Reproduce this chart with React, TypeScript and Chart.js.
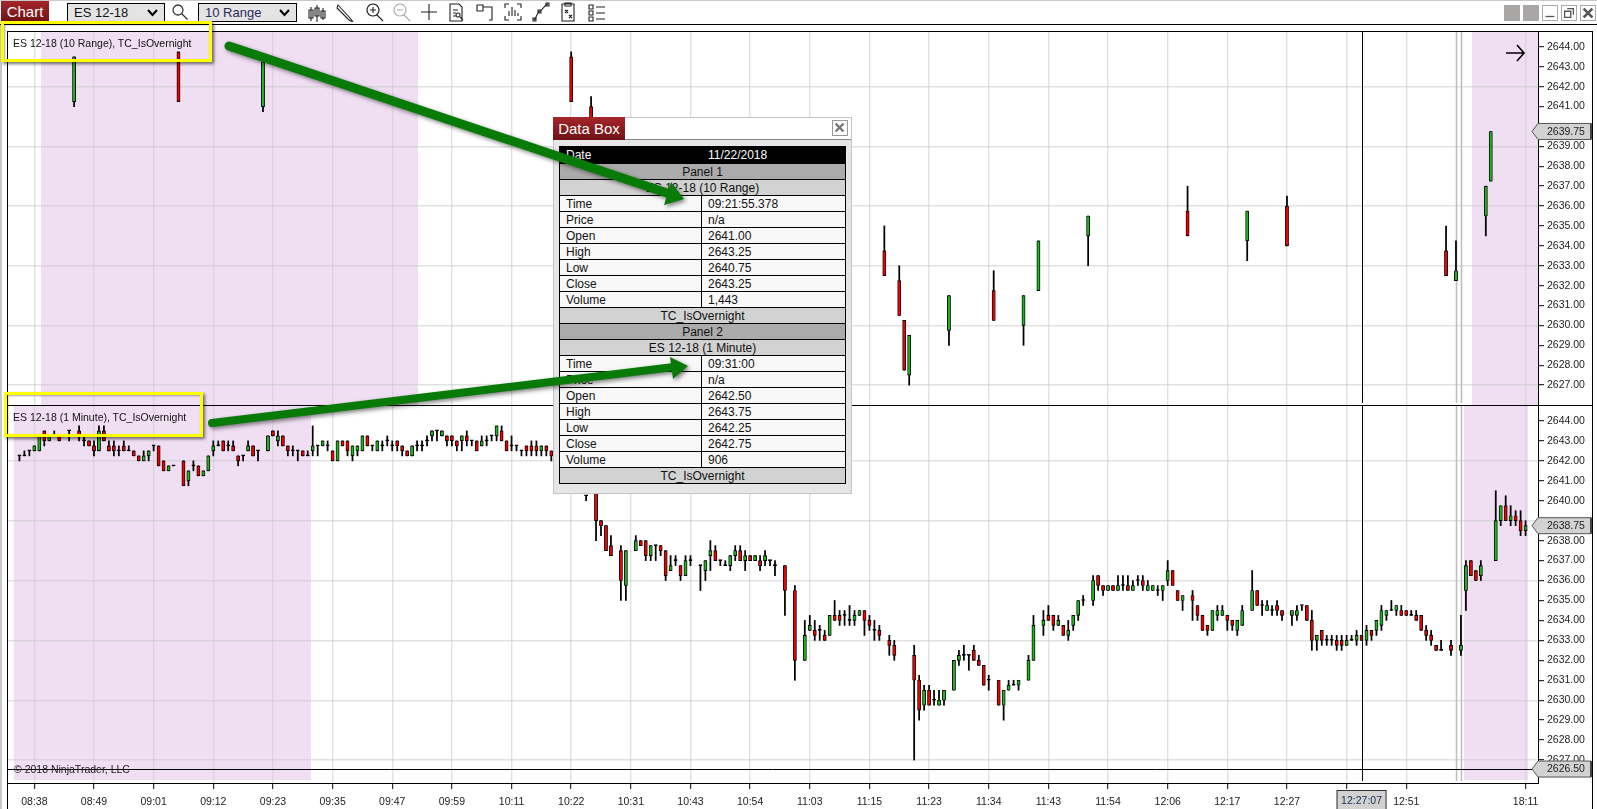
import React, { useEffect, useRef } from "react";
import Chart from "chart.js/auto";

const FONT = '"Liberation Sans", Arial, sans-serif';
const BAR_SLOTS = 308;
const GRID_COLOR = "rgba(200,200,200,0.55)";

// time axis: bar index of each label, the 12:39 one sits under the crosshair flag
const timeIndex = [5, 17, 29, 41, 53, 65, 77, 89, 101, 113, 125, 137, 149, 161, 173, 185, 197, 209, 221, 233, 245, 257, 269, 281, 305];
const timeLabels = ["08:38", "08:49", "09:01", "09:12", "09:23", "09:35", "09:47", "09:59", "10:11", "10:22", "10:31", "10:43", "10:54", "11:03", "11:15", "11:23", "11:34", "11:43", "11:54", "12:06", "12:17", "12:27", "", "12:51", "18:11"];

const priceTicks = [2644, 2643, 2642, 2641, 2640, 2639, 2638, 2637, 2636, 2635, 2634, 2633, 2632, 2631, 2630, 2629, 2628, 2627];
const gridPrices = [2642, 2639, 2636, 2633, 2630, 2627];

// panel 1, ES 12-18 (10 Range)
const upperIndex = [13, 34, 51, 113, 117, 176, 179, 180, 181, 189, 198, 204, 207, 217, 237, 249, 257, 289, 291, 297, 298];
const upperOpen = [2641.25, 2643.75, 2641, 2643.5, 2641, 2633.75, 2632.25, 2630.25, 2627.5, 2629.75, 2631.75, 2630, 2631.75, 2634.5, 2635.75, 2634.25, 2636, 2633.75, 2632.25, 2635.5, 2637.25];
const upperHigh = [2643.5, 2643.75, 2643.25, 2643.75, 2641.5, 2635, 2633, 2630.25, 2629.5, 2631.5, 2632.75, 2631.5, 2634.25, 2635.5, 2637, 2635.75, 2636.5, 2635, 2634.25, 2637, 2639.75];
const upperLow = [2641, 2641.25, 2640.75, 2641.25, 2640, 2632.5, 2630.5, 2627.75, 2627, 2629, 2630.25, 2629, 2631.75, 2633, 2634.5, 2633.25, 2634, 2632.5, 2632.25, 2634.5, 2637.25];
const upperClose = [2643.5, 2641.25, 2643.25, 2641.25, 2640, 2632.5, 2630.5, 2627.75, 2629.5, 2631.5, 2630.25, 2631.5, 2634.25, 2635.5, 2634.5, 2635.75, 2634, 2632.5, 2632.75, 2637, 2639.75];

// panel 2, ES 12-18 (1 Minute)
const lowerIndex = [
	2, 3, 4, 5, 6, 7, 8, 9, 10, 12,
	14, 15, 16, 17, 18, 19, 20, 21, 22, 23,
	24, 25, 26, 27, 28, 29, 30, 31, 32, 33,
	35, 36, 37, 38, 39, 40, 41, 42, 43, 44,
	45, 46, 47, 48, 49, 50, 52, 53, 54, 55,
	56, 57, 58, 59, 60, 61, 62, 63, 64, 65,
	66, 67, 68, 69, 70, 71, 72, 73, 74, 75,
	76, 77, 78, 79, 80, 81, 82, 83, 84, 85,
	86, 87, 88, 89, 90, 91, 92, 93, 94, 95,
	96, 97, 98, 99, 100, 101, 102, 103, 104, 105,
	106, 107, 108, 109, 116, 118, 119, 120, 121, 123,
	124, 126, 127, 128, 129, 130, 131, 132, 133, 134,
	135, 136, 137, 139, 140, 141, 142, 143, 144, 145,
	146, 147, 148, 149, 150, 151, 152, 153, 154, 156,
	158, 160, 161, 162, 163, 164, 165, 166, 167, 168,
	169, 170, 171, 172, 173, 174, 175, 177, 178, 182,
	183, 184, 185, 186, 187, 188, 190, 191, 192, 193,
	194, 195, 196, 197, 199, 200, 201, 202, 203, 205,
	206, 208, 209, 210, 211, 212, 213, 214, 215, 216,
	218, 219, 220, 221, 222, 223, 224, 225, 226, 227,
	228, 229, 230, 231, 232, 233, 234, 235, 236, 238,
	239, 240, 241, 242, 243, 244, 245, 246, 247, 248,
	250, 251, 252, 253, 254, 255, 256, 258, 259, 260,
	261, 262, 263, 264, 265, 266, 267, 268, 269, 270,
	271, 272, 273, 274, 275, 276, 277, 278, 279, 280,
	281, 282, 283, 284, 285, 286, 287, 288, 290, 292,
	293, 294, 295, 296, 299, 300, 301, 302, 303, 304,
	305,
];
const lowerOpen = [
	2642.25, 2642.25, 2642.5, 2642.5, 2642.5, 2643.5, 2643, 2643.25, 2643.25, 2643.5,
	2643.5, 2643, 2643, 2642.75, 2642.5, 2643.5, 2642.75, 2642.75, 2642.5, 2642.75,
	2642.5, 2642.5, 2642.25, 2642, 2642.25, 2642.75, 2642.75, 2642, 2641.5, 2641.75,
	2642, 2641, 2641.75, 2641.75, 2641.25, 2641.5, 2642.5, 2642.75, 2643, 2642.75,
	2642.75, 2642.25, 2642.25, 2642.5, 2642.75, 2642.5, 2642.5, 2643.5, 2643, 2643.25,
	2642.75, 2642.5, 2642.5, 2642.5, 2642.25, 2642.5, 2642.75, 2642.75, 2642.75, 2642.5,
	2642, 2643, 2643, 2642.25, 2642.5, 2642.5, 2643.25, 2642.75, 2642.5, 2642.75,
	2643, 2642.75, 2643, 2642.75, 2642.5, 2642.25, 2642.75, 2642.75, 2643, 2643.25,
	2643.5, 2643.25, 2643.25, 2643.25, 2643, 2643, 2643.25, 2643, 2643, 2642.75,
	2643, 2643.25, 2643.25, 2643.5, 2643, 2642.75, 2642.75, 2642.5, 2642.75, 2642.75,
	2642.75, 2642.5, 2642.75, 2642.5, 2640.25, 2640.5, 2639, 2638.75, 2637.75, 2637.5,
	2635.75, 2637.5, 2638, 2638, 2637.25, 2637.75, 2637.75, 2637.5, 2636.5, 2637,
	2636.75, 2636.25, 2637, 2636.75, 2636.5, 2637.25, 2637.5, 2637, 2636.75, 2636.75,
	2637.25, 2637.5, 2637, 2637.25, 2637, 2637, 2637, 2637, 2636.75, 2636.75,
	2635.5, 2632, 2633.5, 2633.5, 2633.5, 2633.25, 2633.25, 2634.25, 2634.25, 2634.25,
	2634, 2634, 2634.25, 2634.5, 2634, 2633.5, 2633.5, 2633, 2632.75, 2632.25,
	2631, 2629.75, 2630.5, 2630, 2629.75, 2630, 2630.5, 2632, 2632.25, 2632.25,
	2632.5, 2632, 2631.75, 2631, 2631, 2629.75, 2630.5, 2630.75, 2630.75, 2631,
	2632, 2633.75, 2634.25, 2634.25, 2633.75, 2633.75, 2633.25, 2633.75, 2634.25, 2635,
	2635, 2636.25, 2635.75, 2635.5, 2635.75, 2635.5, 2635.75, 2635.75, 2635.5, 2636,
	2636, 2635.5, 2635.5, 2635.5, 2635.5, 2636, 2636.5, 2635.5, 2635, 2635.25,
	2634.75, 2634.25, 2633.75, 2633.5, 2634.25, 2634.25, 2634.25, 2634, 2633.5, 2633.75,
	2634.5, 2635.5, 2634.75, 2634.5, 2634.5, 2634.75, 2634.5, 2634.25, 2634.25, 2634.75,
	2634.75, 2634, 2633, 2633.5, 2633, 2633, 2633, 2633, 2632.75, 2633,
	2633, 2633.25, 2633, 2633.5, 2633.5, 2633.75, 2634.25, 2634.5, 2634.5, 2634.5,
	2634.5, 2634.25, 2634.25, 2634.25, 2633.5, 2633.25, 2632.75, 2632.5, 2632.75, 2632.5,
	2635.5, 2637, 2636.5, 2636.25, 2637, 2639, 2639.75, 2639, 2639.25, 2639,
	2638.5,
];
const lowerHigh = [
	2642.25, 2642.5, 2642.5, 2642.75, 2643.25, 2643.5, 2643.25, 2643.5, 2643.25, 2643.5,
	2643.75, 2643.25, 2643, 2643, 2643.75, 2643.75, 2643, 2643, 2642.75, 2643,
	2642.75, 2642.5, 2642.25, 2642.5, 2642.5, 2642.75, 2642.75, 2642, 2641.75, 2641.75,
	2642, 2641.5, 2642, 2641.75, 2641.5, 2642.25, 2643, 2643, 2643, 2643,
	2643, 2642.25, 2642.25, 2643, 2642.75, 2642.5, 2643.25, 2643.5, 2643.5, 2643.25,
	2642.75, 2642.75, 2642.5, 2642.5, 2642.5, 2643.75, 2642.75, 2643, 2643, 2642.5,
	2643, 2643, 2643, 2642.75, 2642.75, 2643.25, 2643.25, 2642.75, 2643, 2643,
	2643.25, 2643, 2643, 2642.75, 2642.5, 2642.75, 2643, 2643, 2643.25, 2643.5,
	2643.5, 2643.5, 2643.25, 2643.25, 2643, 2643.25, 2643.5, 2643, 2643, 2643.25,
	2643.25, 2643.25, 2643.75, 2643.75, 2643, 2643.25, 2642.75, 2642.5, 2642.75, 2643,
	2643, 2642.75, 2642.75, 2642.5, 2640.25, 2640.5, 2639, 2638.75, 2638.25, 2637.75,
	2637.5, 2638.25, 2638, 2638, 2637.75, 2637.75, 2637.75, 2637.5, 2637.25, 2637.25,
	2636.75, 2637.25, 2637.25, 2636.75, 2637, 2638, 2637.75, 2637, 2637, 2637.25,
	2637.75, 2637.75, 2637.5, 2637.25, 2637.25, 2637.25, 2637.5, 2637, 2637, 2636.75,
	2635.75, 2634, 2634.25, 2634, 2633.75, 2633.5, 2634.25, 2635, 2634.5, 2634.5,
	2634.75, 2634.5, 2634.5, 2634.5, 2634.25, 2634, 2633.75, 2633.25, 2633, 2632.75,
	2631.25, 2630.75, 2630.75, 2630.5, 2630.5, 2630.5, 2632, 2632.5, 2632.75, 2632.25,
	2632.75, 2632.25, 2631.75, 2631.25, 2631, 2630.5, 2631, 2631, 2631, 2632.25,
	2634.25, 2634.5, 2634.75, 2634.25, 2634.25, 2633.75, 2634, 2634.25, 2635, 2635.25,
	2636.25, 2636.25, 2635.75, 2635.75, 2635.75, 2636.25, 2636.25, 2636.25, 2636, 2636.25,
	2636.25, 2636, 2635.75, 2635.75, 2635.75, 2637, 2636.5, 2635.5, 2635.25, 2635.5,
	2634.75, 2634.25, 2633.75, 2634.5, 2634.75, 2634.75, 2634.25, 2634, 2634, 2634.75,
	2636.5, 2635.5, 2635, 2635, 2634.75, 2635, 2634.5, 2634.5, 2634.75, 2634.75,
	2634.75, 2634.5, 2633.25, 2633.5, 2633.25, 2633.25, 2633.25, 2633.25, 2633.25, 2633.25,
	2633.5, 2633.25, 2633.75, 2633.5, 2634, 2634.75, 2634.5, 2635, 2634.75, 2634.75,
	2634.5, 2634.5, 2634.5, 2634.25, 2633.75, 2633.5, 2632.75, 2633, 2633, 2634.25,
	2637, 2637, 2636.5, 2637, 2640.5, 2639.75, 2640.25, 2639.75, 2639.5, 2639.5,
	2639,
];
const lowerLow = [
	2642, 2642.25, 2642.25, 2642.5, 2642.5, 2642.75, 2643, 2643.25, 2643, 2643,
	2643, 2642.75, 2642.75, 2642.25, 2642.5, 2643, 2642.5, 2642.25, 2642.25, 2642.5,
	2642.5, 2642.25, 2642, 2642, 2642, 2642.5, 2641.75, 2641.5, 2641.5, 2641.75,
	2640.75, 2640.75, 2641.5, 2641.25, 2641.25, 2641.5, 2642.25, 2642.75, 2642.5, 2642.5,
	2642.5, 2641.75, 2642, 2642.5, 2642.25, 2642, 2642.5, 2643.25, 2642.75, 2642.75,
	2642.25, 2642.25, 2642, 2642.25, 2642.25, 2642.25, 2642.25, 2642.75, 2642.5, 2642,
	2642, 2642.75, 2642.25, 2642, 2642.25, 2642.5, 2642.75, 2642.5, 2642.5, 2642.5,
	2642.75, 2642.5, 2642.5, 2642.25, 2642.25, 2642.25, 2642.5, 2642.5, 2642.75, 2643,
	2643, 2643.25, 2642.75, 2642.75, 2642.5, 2642.5, 2642.75, 2642.75, 2642.5, 2642.75,
	2642.75, 2643, 2643, 2643, 2642.5, 2642.5, 2642.5, 2642.25, 2642.25, 2642.25,
	2642.25, 2642.25, 2642.25, 2642, 2640, 2638, 2638.25, 2637.5, 2637.25, 2635,
	2635, 2637.5, 2637.75, 2637, 2637, 2637, 2637.25, 2636, 2636.5, 2636.75,
	2636, 2636.25, 2636.75, 2635.5, 2636, 2636.5, 2637, 2636.75, 2636.75, 2636.5,
	2637, 2637, 2636.5, 2637, 2637, 2636.5, 2636.75, 2636.75, 2636.25, 2634.25,
	2631, 2632, 2633.5, 2633, 2633, 2633, 2633.25, 2634, 2633.75, 2633.75,
	2633.75, 2633.75, 2634.25, 2633.25, 2633.5, 2633, 2633, 2632.25, 2632, 2627,
	2629, 2629.5, 2629.75, 2629.75, 2629.75, 2629.75, 2630.5, 2631.75, 2632, 2631.5,
	2632, 2631.75, 2630.75, 2630.5, 2629.75, 2629, 2630.5, 2630.75, 2630.5, 2631,
	2632, 2633.25, 2634, 2633.5, 2633.75, 2633.25, 2633, 2633.5, 2634, 2634.75,
	2634.75, 2635.5, 2635.25, 2635.5, 2635.5, 2635.5, 2635.5, 2635.5, 2635.5, 2635.75,
	2635.5, 2635.5, 2635.5, 2635.25, 2635, 2635.75, 2635.75, 2635, 2634.5, 2634,
	2634, 2633.5, 2633.25, 2633.5, 2634, 2634.25, 2633.5, 2633.5, 2633.25, 2633.75,
	2634.5, 2634.75, 2634.25, 2634.5, 2634.25, 2634.25, 2634, 2633.75, 2634, 2634.5,
	2634, 2632.5, 2632.5, 2632.75, 2632.75, 2632.75, 2632.5, 2632.5, 2632.75, 2633,
	2632.75, 2633, 2632.75, 2633, 2633.25, 2633.5, 2634, 2634.5, 2634.25, 2634.25,
	2634.25, 2634.25, 2634, 2633.5, 2633, 2632.75, 2632.5, 2632.5, 2632.25, 2632.25,
	2634.5, 2636.25, 2636, 2636, 2637, 2638.75, 2639, 2638.75, 2638.75, 2638.25,
	2638.25,
];
const lowerClose = [
	2642.25, 2642.25, 2642.5, 2642.75, 2643.25, 2643, 2643.25, 2643.25, 2643, 2643.5,
	2643.25, 2643, 2642.75, 2642.5, 2643.5, 2643, 2642.5, 2642.5, 2642.5, 2642.5,
	2642.5, 2642.25, 2642, 2642.25, 2642.5, 2642.75, 2641.75, 2641.5, 2641.75, 2641.75,
	2640.75, 2641.5, 2641.75, 2641.25, 2641.5, 2642.25, 2642.75, 2642.75, 2642.5, 2642.75,
	2642.5, 2642, 2642.25, 2642.75, 2642.25, 2642.5, 2643.25, 2643.25, 2643.25, 2642.75,
	2642.5, 2642.5, 2642.5, 2642.25, 2642.25, 2642.75, 2642.75, 2643, 2642.75, 2642,
	2643, 2642.75, 2642.5, 2642.75, 2642.75, 2643.25, 2642.75, 2642.75, 2643, 2642.75,
	2643, 2642.75, 2642.75, 2642.5, 2642.25, 2642.75, 2642.75, 2642.75, 2643, 2643.5,
	2643.5, 2643.5, 2643, 2643, 2642.75, 2643.25, 2643, 2643, 2642.5, 2643,
	2643, 2643.25, 2643.75, 2643, 2642.5, 2642.75, 2642.75, 2642.5, 2642.5, 2642.5,
	2642.5, 2642.75, 2642.5, 2642.25, 2640.25, 2639, 2638.75, 2637.5, 2637.25, 2636,
	2637.5, 2638, 2637.75, 2637.25, 2637.75, 2637.75, 2637.5, 2636.25, 2636.75, 2637,
	2636.25, 2637, 2637, 2636.75, 2637, 2637.5, 2637, 2637, 2636.75, 2637.25,
	2637.5, 2637, 2637.25, 2637, 2637.25, 2636.75, 2637.25, 2637, 2636.75, 2635.5,
	2632, 2633.25, 2633.75, 2633.25, 2633.5, 2633, 2634.25, 2634, 2634, 2634.25,
	2634, 2634.25, 2634.5, 2634, 2633.75, 2633.5, 2633.25, 2632.75, 2632.25, 2631,
	2629.5, 2630.5, 2629.75, 2630, 2630, 2630.5, 2632, 2632.25, 2632.25, 2632.25,
	2632, 2631.75, 2630.75, 2631, 2629.75, 2630.5, 2630.75, 2630.75, 2631, 2632,
	2633.75, 2634, 2634, 2633.75, 2634, 2633.25, 2633.5, 2634.25, 2635, 2635,
	2636, 2635.75, 2635.5, 2635.75, 2635.5, 2635.75, 2635.75, 2635.5, 2635.75, 2636,
	2635.75, 2635.75, 2635.75, 2635.5, 2635.75, 2636.5, 2635.75, 2635, 2635.25, 2635,
	2634.25, 2633.5, 2633.5, 2634.5, 2634.5, 2634.5, 2634, 2633.75, 2634, 2634.5,
	2635.5, 2634.75, 2634.75, 2634.75, 2634.5, 2634.5, 2634.25, 2634.5, 2634.5, 2634.75,
	2634, 2633, 2633.25, 2633, 2633, 2633, 2632.75, 2632.75, 2633, 2633,
	2633.25, 2633, 2633.5, 2633.25, 2634, 2634.5, 2634.5, 2634.5, 2634.75, 2634.25,
	2634.25, 2634.25, 2634, 2633.5, 2633.25, 2633, 2632.5, 2632.5, 2632.5, 2632.75,
	2636.75, 2636.25, 2636, 2636.75, 2639, 2639.75, 2639, 2639.25, 2639, 2638.5,
	2638.75,
];

// shaded TC_IsOvernight spans, in bar slots
const upperOvernight = [[6.34, 82.18], [294.2, 307.5]];
const lowerOvernight = [[0.85, 60.65], [292.6, 305.5]];
const sessionBreaks = [291, 292];
const crosshairIndex = 272;
const crosshairPrice = 2626.55;

// data box rows: label, value, or one span text
const boxRows = [
	["Panel 1"], ["ES 12-18 (10 Range)"],
	["Time", "09:21:55.378"], ["Price", "n/a"], ["Open", "2641.00"], ["High", "2643.25"], ["Low", "2640.75"], ["Close", "2643.25"], ["Volume", "1,443"],
	["TC_IsOvernight"],
	["Panel 2"], ["ES 12-18 (1 Minute)"],
	["Time", "09:31:00"], ["Price", "n/a"], ["Open", "2642.50"], ["High", "2643.75"], ["Low", "2642.25"], ["Close", "2642.75"], ["Volume", "906"],
	["TC_IsOvernight"],
];

const slotLabels = Array.from({ length: BAR_SLOTS }, (_, i) => {
	const at = timeIndex.indexOf(i);
	return at >= 0 ? timeLabels[at] : "";
});

function candleDatasets(index: number[], open: number[], high: number[], low: number[], close: number[]) {
	const wicks: any[] = new Array(BAR_SLOTS).fill(null);
	const bodies: any[] = new Array(BAR_SLOTS).fill(null);
	const fills: string[] = new Array(BAR_SLOTS).fill("#000");
	index.forEach((slot, i) => {
		wicks[slot] = [low[i], high[i]];
		bodies[slot] = [open[i], close[i]];
		fills[slot] = close[i] > open[i] ? "#1fb41f" : close[i] < open[i] ? "#f00000" : "#000";
	});
	return [
		{ label: "body", data: bodies, backgroundColor: fills, borderColor: "#000", borderWidth: 0.9, borderSkipped: false, barThickness: 3.2, minBarLength: 1, order: 1, grouped: false },
		{ label: "wick", data: wicks, backgroundColor: "#000", barThickness: 1.1, order: 2, grouped: false },
	];
}

function drawFlag(ctx: CanvasRenderingContext2D, chart: any, y: number, text: string) {
	const left = chart.chartArea.right;
	const right = chart.width - 6;
	ctx.save();
	ctx.beginPath();
	ctx.moveTo(left - 6, y);
	ctx.lineTo(left, y - 8);
	ctx.lineTo(right, y - 8);
	ctx.lineTo(right, y + 8);
	ctx.lineTo(left, y + 8);
	ctx.closePath();
	ctx.fillStyle = "#d2d2d2";
	ctx.fill();
	ctx.strokeStyle = "#555";
	ctx.lineWidth = 1;
	ctx.stroke();
	ctx.fillStyle = "#444";
	ctx.fillRect(right - 1, y - 8, 2, 16);
	ctx.fillStyle = "#222";
	ctx.font = `10.5px ${FONT}`;
	ctx.textAlign = "left";
	ctx.textBaseline = "middle";
	ctx.fillText(text, left + 9, y + 0.5);
	ctx.restore();
}

function panelPlugin(overnight: number[][], shadeBottom: number, flags: any[], lower: boolean) {
	return {
		id: "panel",
		beforeDraw(chart: any) {
			const { ctx, chartArea, scales } = chart;
			ctx.save();
			ctx.fillStyle = "#f0dff3";
			overnight.forEach(([from, to]) => {
				const a = scales.x.getPixelForValue(from);
				const b = scales.x.getPixelForValue(to);
				ctx.fillRect(a, chartArea.top, b - a, chartArea.bottom - shadeBottom - chartArea.top);
			});
			ctx.restore();
		},
		beforeDatasetsDraw(chart: any) {
			const { ctx, chartArea, scales } = chart;
			ctx.save();
			ctx.strokeStyle = "#bdbdbd";
			ctx.lineWidth = 1.5;
			sessionBreaks.forEach(slot => {
				const x = Math.round(scales.x.getPixelForValue(slot)) + 0.5;
				ctx.beginPath();
				ctx.moveTo(x, chartArea.top);
				ctx.lineTo(x, chartArea.bottom - 2);
				ctx.stroke();
			});
			ctx.restore();
		},
		afterDraw(chart: any) {
			const { ctx, chartArea, scales } = chart;
			ctx.save();
			ctx.strokeStyle = "#000";
			ctx.lineWidth = 1;
			const x = Math.round(scales.x.getPixelForValue(crosshairIndex)) + 0.5;
			ctx.beginPath();
			ctx.moveTo(x, chartArea.top);
			ctx.lineTo(x, chartArea.bottom - 2);
			if (lower) {
				const y = Math.round(scales.y.getPixelForValue(crosshairPrice)) + 0.5;
				ctx.moveTo(chartArea.left, y);
				ctx.lineTo(chartArea.right, y);
			}
			ctx.stroke();
			ctx.strokeRect(chartArea.left + 0.5, chartArea.top - 0.5, chartArea.right - chartArea.left, chartArea.bottom - chartArea.top + 1);
			ctx.restore();
			flags.forEach(f => drawFlag(ctx, chart, scales.y.getPixelForValue(f.price), f.text));
			if (lower) {
				ctx.save();
				const cx = scales.x.getPixelForValue(crosshairIndex);
				ctx.fillStyle = "#d2d2d2";
				ctx.strokeStyle = "#333";
				ctx.fillRect(cx - 25, chart.height - 19, 50, 19);
				ctx.strokeRect(cx - 24.5, chart.height - 18.5, 49, 20);
				ctx.fillStyle = "#1a2a50";
				ctx.font = `10.5px ${FONT}`;
				ctx.textAlign = "center";
				ctx.textBaseline = "middle";
				ctx.fillText("12:27:07", cx, chart.height - 8);
				ctx.restore();
			}
		},
	};
}

function panelConfig(datasets: any[], min: number, max: number, lower: boolean, coveredPrice: number, plugin: any) {
	return {
		type: "bar",
		data: { labels: slotLabels, datasets },
		plugins: [plugin],
		options: {
			animation: false,
			responsive: false,
			devicePixelRatio: 1,
			events: [],
			layout: { padding: { left: 7, right: 0, top: lower ? 0 : 1, bottom: lower ? 0 : 1 } },
			plugins: { legend: { display: false }, tooltip: { enabled: false } },
			scales: {
				x: {
					type: "category",
					offset: true,
					border: { display: false },
					grid: {
						offset: false,
						color: GRID_COLOR,
						lineWidth: 1.4,
						tickColor: "#000",
						tickWidth: 1,
						tickLength: lower ? 6 : 0,
						drawTicks: lower,
					},
					ticks: {
						display: lower,
						autoSkip: false,
						maxRotation: 0,
						padding: 7,
						color: "#222",
						font: { family: FONT, size: 10.5 },
					},
					afterBuildTicks: (scale: any) => {
						scale.ticks = timeIndex.map(value => ({ value }));
					},
					afterFit: (scale: any) => {
						scale.height = lower ? 26 : 0;
						scale.paddingLeft = 0;
						scale.paddingRight = 0;
					},
				},
				y: {
					position: "right",
					min,
					max,
					border: { display: false },
					grid: {
						color: (ctx: any) => (gridPrices.includes(ctx.tick?.value) ? GRID_COLOR : "rgba(0,0,0,0)"),
						lineWidth: 1.4,
						tickColor: "#000",
						tickWidth: 1,
						tickLength: 6,
					},
					ticks: {
						padding: 3,
						autoSkip: false,
						color: "#222",
						font: { family: FONT, size: 10.5 },
						// the price flag hides this label in the reference
						callback: (v: any) => (Number(v) === coveredPrice ? "" : Number(v).toFixed(2)),
					},
					afterBuildTicks: (scale: any) => {
						scale.ticks = priceTicks.map(value => ({ value }));
					},
					afterFit: (scale: any) => {
						scale.width = 59;
						scale.paddingTop = 0;
						scale.paddingBottom = 0;
					},
				},
			},
		},
	};
}

const abs = (left: number, top: number, width: number, height: number, extra: any = {}) => ({
	position: "absolute" as const,
	left,
	top,
	width,
	height,
	boxSizing: "border-box" as const,
	...extra,
});

const tabStyle = { background: "linear-gradient(#a5262a, #6f1216)", color: "#fff", fontFamily: FONT, display: "flex", alignItems: "center", justifyContent: "center" };

function Combo({ left, width, text, color }: any) {
	return (
		<div style={abs(left, 3, width, 19, { background: "#e4e4e4", border: "1px solid #000", fontFamily: FONT, fontSize: 13, lineHeight: "18px", paddingLeft: 6, color })}>
			{text}
			<svg style={{ position: "absolute", right: 6, top: 5 }} width="11" height="8">
				<path d="M1 1 L5.5 6 L10 1" fill="none" stroke="#000" strokeWidth="2" />
			</svg>
		</div>
	);
}

const toolIcons = [
	"M3 5v14M9 3v18M15 6v12M1 8h4v8H1zM7 6h4v8H7zM13 9h4v7h-4z",
	"M3 3l12 13 3 4-4-2L2 6z",
	"M9 2a6 6 0 1 0 .01 0zM9 5v6M6 8h6M13 13l6 6",
	"M9 2a6 6 0 1 0 .01 0zM6 8h6M13 13l6 6",
	"M10 2v16M2 10h16",
	"M3 2h9l3 3v14H3zM6 8h5M6 11h3M6 14h3M11 11a2 2 0 1 0 .01 0zM13 15l3 3",
	"M2 3h6v6H2zM8 5h9v13h-3M5 6h0",
	"M2 6V2h4M14 2h4v4M2 14v4h4M14 18h4v-4M6 14V9M9 14V5M12 14V8M15 14v-3",
	"M3 18c3-2 2-7 6-9s3-5 8-7M2 16h3v3H2zM7 8h3v3H7zM15 1h3v3h-3z",
	"M3 2h12v17H3zM6 1h6v3H6zM6 8l3 3M9 8l-3 3M10 13l3 3M13 13l-3 3",
	"M2 3h4v4H2zM2 9h4v4H2zM2 15h4v4H2zM9 5h9M9 11h9M9 17h9",
];
const toolX = [308, 335, 364, 391, 419, 447, 475, 503, 531, 559, 587];

export default function App() {
	const upperRef = useRef<HTMLCanvasElement>(null);
	const lowerRef = useRef<HTMLCanvasElement>(null);

	useEffect(() => {
		if (!upperRef.current || !lowerRef.current) return;
		const upper = new Chart(
			upperRef.current,
			panelConfig(
				candleDatasets(upperIndex, upperOpen, upperHigh, upperLow, upperClose),
				2626.0,
				2644.75,
				false,
				2640,
				panelPlugin(upperOvernight, 0, [{ price: 2639.75, text: "2639.75" }], false)
			) as any
		);
		const lower = new Chart(
			lowerRef.current,
			panelConfig(
				candleDatasets(lowerIndex, lowerOpen, lowerHigh, lowerLow, lowerClose),
				2625.85,
				2644.8,
				true,
				2639,
				panelPlugin(lowerOvernight, 3, [
					{ price: 2638.75, text: "2638.75" },
					{ price: crosshairPrice, text: "2626.50" },
				], true)
			) as any
		);
		return () => {
			upper.destroy();
			lower.destroy();
		};
	}, []);

	return (
		<div style={abs(0, 0, 1597, 809, { background: "#fff", overflow: "hidden" })}>
			<canvas ref={upperRef} width={1597} height={375} style={abs(0, 31, 1597, 375)} />
			<canvas ref={lowerRef} width={1597} height={404} style={abs(0, 405, 1597, 404)} />

			{/* window frame */}
			<div style={abs(0, 0, 1597, 1, { background: "#c8c8c8" })} />
			<div style={abs(0, 24, 1597, 1, { background: "#000" })} />
			<div style={abs(0, 25, 2, 784, { background: "#c8c8c8" })} />
			<div style={abs(7, 31, 1586, 1, { background: "#000" })} />
			<div style={abs(1592, 31, 1, 778, { background: "#000" })} />
			<div style={abs(7, 31, 1, 778, { background: "#000" })} />
			<div style={abs(7, 405, 1586, 1, { background: "#000" })} />

			{/* toolbar */}
			<div style={abs(1, 1, 48, 21, { ...tabStyle, fontSize: 15 })}>Chart</div>
			<Combo left={67} width={98} text="ES 12-18" color="#111" />
			<svg style={abs(171, 3, 18, 18)} viewBox="0 0 18 18">
				<path d="M7 2a5 5 0 1 0 .01 0zM10.5 10.5l6 6" fill="none" stroke="#333" strokeWidth="1.3" />
			</svg>
			<Combo left={198} width={99} text="10 Range" color="#2a2a60" />
			{toolIcons.map((d, i) => (
				<svg key={i} style={abs(toolX[i], 2, 20, 20)} viewBox="0 0 20 20">
					<path d={d} fill="none" stroke={i === 3 ? "#aaa" : "#222"} strokeWidth="1.1" />
				</svg>
			))}
			<div style={abs(1504, 5, 16, 16, { background: "#a9a6a6" })} />
			<div style={abs(1523, 5, 16, 16, { background: "#a9a6a6" })} />
			{["M3 12h10", "M3 6h7v7H3zM6 3h7v7", "M3 3l10 10M13 3L3 13"].map((d, i) => (
				<svg key={d} style={abs(1542 + i * 19, 5, 16, 16, { border: "1px solid #aaa" })} viewBox="0 0 16 16">
					<path d={d} fill="none" stroke="#555" strokeWidth={i === 2 ? 3 : 1.5} />
				</svg>
			))}

			{/* scroll arrow */}
			<svg style={abs(1504, 42, 22, 22)} viewBox="0 0 22 22">
				<path d="M2 11h18M13 3l7 8-7 8" fill="none" stroke="#000" strokeWidth="1.6" />
			</svg>

			<div style={abs(14, 762, 130, 14, { fontFamily: FONT, fontSize: 10.5, lineHeight: "14px", color: "#222", whiteSpace: "nowrap" })}>© 2018 NinjaTrader, LLC</div>

			{/* data box */}
			<div style={abs(553, 117, 299, 377, { background: "#e6e6e6", border: "1px solid #c4c4c4" })} />
			<div style={abs(554, 118, 297, 22, { background: "#fff", borderBottom: "1px solid #888" })} />
			<div style={abs(553, 117, 72, 23, { ...tabStyle, fontSize: 15 })}>Data Box</div>
			<svg style={abs(832, 120, 16, 16, { border: "1px solid #999" })} viewBox="0 0 16 16">
				<path d="M3 3l9 9M12 3l-9 9" fill="none" stroke="#777" strokeWidth="2.6" />
			</svg>
			<div style={abs(559, 146, 287, 18, { background: "#000", color: "#fff", fontFamily: FONT, fontSize: 12, lineHeight: "19px" })}>
				<span style={{ position: "absolute", left: 7 }}>Date</span>
				<span style={{ position: "absolute", left: 149 }}>11/22/2018</span>
			</div>
			{boxRows.map((row, i) => {
				const top = 164 + i * 16;
				const base = { fontFamily: FONT, fontSize: 12, lineHeight: "17px", color: "#111", borderBottom: "1px solid #000", borderLeft: "1px solid #000", borderRight: "1px solid #000", overflow: "hidden" };
				if (row.length === 1) {
					const panel = row[0].startsWith("Panel");
					return (
						<div key={i} style={abs(559, top, 287, 16, { ...base, background: panel ? "#ababab" : "#d2d2d2", textAlign: "center" })}>
							{row[0]}
						</div>
					);
				}
				return (
					<div key={i} style={abs(559, top, 287, 16, { ...base, background: "#f8f8f8" })}>
						<span style={{ position: "absolute", left: 6 }}>{row[0]}</span>
						<span style={{ position: "absolute", left: 141, top: 0, height: 15, borderLeft: "1px solid #000" }} />
						<span style={{ position: "absolute", left: 148 }}>{row[1]}</span>
					</div>
				);
			})}

			{/* callouts */}
			<div style={abs(1, 21, 211, 41, { border: "3.5px solid #ffff00", boxShadow: "2px 2px 3px rgba(0,0,0,0.55), inset 1px 1px 2px rgba(0,0,0,0.35)" })} />
			<div style={abs(13, 36, 190, 14, { fontFamily: FONT, fontSize: 10.5, lineHeight: "14px", color: "#111", whiteSpace: "nowrap" })}>ES 12-18 (10 Range), TC_IsOvernight</div>
			<div style={abs(4, 392, 199, 45, { border: "3.5px solid #ffff00", boxShadow: "2px 2px 3px rgba(0,0,0,0.55), inset 1px 1px 2px rgba(0,0,0,0.35)" })} />
			<div style={abs(13, 410, 190, 14, { fontFamily: FONT, fontSize: 10.5, lineHeight: "14px", color: "#111", whiteSpace: "nowrap" })}>ES 12-18 (1 Minute), TC_IsOvernight</div>
			<svg style={{ ...abs(0, 0, 1597, 809), pointerEvents: "none", filter: "drop-shadow(2px 2px 2px rgba(0,0,0,0.5))" }}>
				<path d="M229 46L670 194" stroke="#087a08" strokeWidth="9" strokeLinecap="round" />
				<path d="M684 199L671 182L664 205z" fill="#087a08" />
				<path d="M212 423L674 367" stroke="#087a08" strokeWidth="8" strokeLinecap="round" />
				<path d="M688 366L670 357L673 379z" fill="#087a08" />
			</svg>
		</div>
	);
}
